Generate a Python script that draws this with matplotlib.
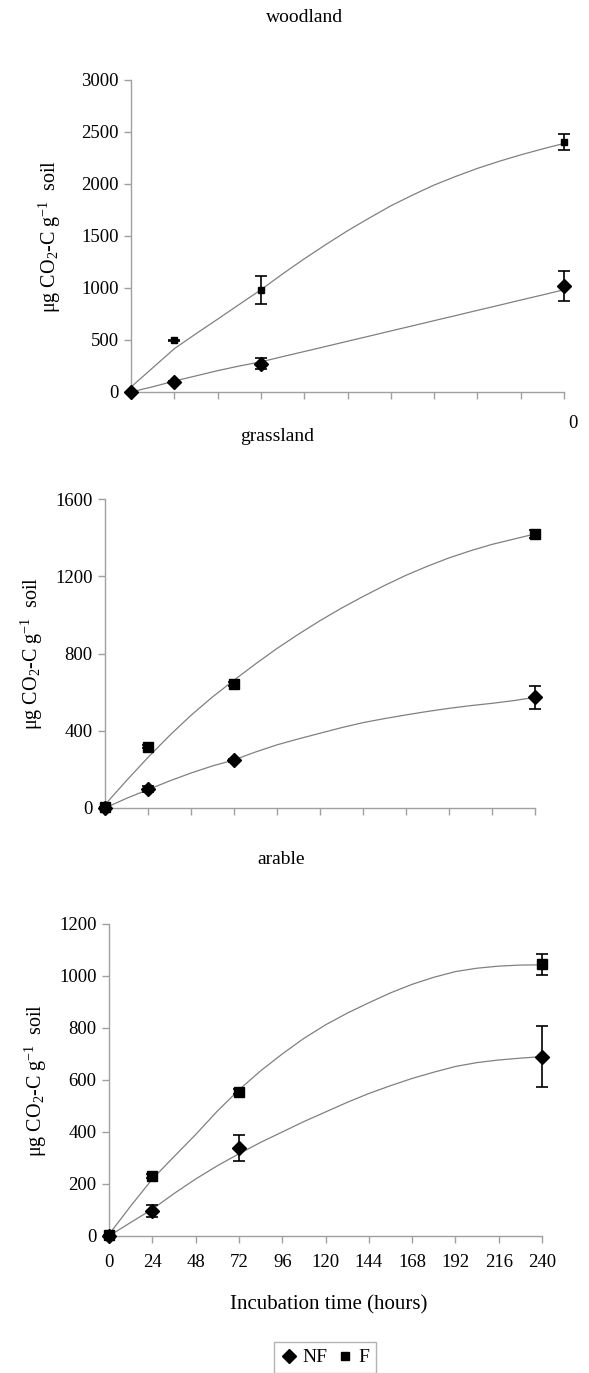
import matplotlib
matplotlib.use("Agg")
import matplotlib.pyplot as plt
from matplotlib.lines import Line2D

plt.rcParams['font.family'] = ['Liberation Serif', 'DejaVu Serif']
plt.rcParams['mathtext.fontset'] = 'custom'
plt.rcParams['mathtext.rm'] = 'Liberation Serif'
plt.rcParams['mathtext.it'] = 'Liberation Serif:italic'

# ---- data ----
t_obs = [0, 24, 72, 240]
t_curve = [0, 12, 24, 36, 48, 60, 72, 84, 96, 108, 120, 132, 144, 156, 168,
           180, 192, 204, 216, 228, 240]
x_ticks = [0, 24, 48, 72, 96, 120, 144, 168, 192, 216, 240]

panels = ["woodland", "grassland", "arable"]

# woodland
wood_nf = [0, 92, 272, 1018]
wood_nf_err = [0, 10, 55, 145]
wood_f = [0, 496, 983, 2401]
wood_f_err = [0, 8, 133, 75]
wood_nf_curve = [0, 50, 105, 155, 205, 250, 290, 340, 389, 438, 488, 537,
                 587, 636, 686, 735, 785, 834, 884, 933, 983]
wood_f_curve = [48, 232, 416, 560, 700, 842, 983, 1135, 1280, 1418, 1550,
                1672, 1790, 1893, 1990, 2073, 2150, 2218, 2280, 2337, 2390]

# grassland
grass_nf = [0, 98, 246, 573]
grass_nf_err = [0, 15, 8, 60]
grass_f = [5, 318, 642, 1419]
grass_f_err = [0, 8, 12, 22]
grass_nf_curve = [0, 50, 95, 140, 181, 218, 249, 290, 327, 358, 387, 416,
                  442, 463, 482, 500, 516, 530, 542, 556, 573]
grass_f_curve = [17, 142, 262, 375, 480, 575, 662, 746, 826, 900, 970, 1035,
                 1095, 1152, 1205, 1252, 1295, 1332, 1365, 1392, 1419]

# arable
ar_nf = [0, 97, 338, 690]
ar_nf_err = [0, 22, 50, 117]
ar_f = [5, 232, 555, 1045]
ar_f_err = [0, 8, 10, 40]
ar_nf_curve = [0, 52, 103, 163, 219, 270, 316, 360, 400, 440, 477, 514,
               548, 578, 606, 630, 652, 667, 677, 684, 690]
ar_f_curve = [6, 115, 219, 305, 390, 480, 562, 635, 700, 760, 812, 857,
              897, 935, 968, 995, 1017, 1030, 1038, 1042, 1043]

ylims = [3000, 1600, 1200]
ysteps = [500, 400, 200]

data = [
    (wood_nf, wood_nf_err, wood_f, wood_f_err, wood_nf_curve, wood_f_curve),
    (grass_nf, grass_nf_err, grass_f, grass_f_err, grass_nf_curve, grass_f_curve),
    (ar_nf, ar_nf_err, ar_f, ar_f_err, ar_nf_curve, ar_f_curve),
]

W, H = 589, 1373
fig = plt.figure(figsize=(W / 100, H / 100), dpi=100)

def fx(px):
    return px / W

def fy(py):
    return 1 - py / H

# axes boxes in pixels: left, right, top, bottom
boxes = [(131, 564, 80, 392), (105, 535, 499, 808), (109, 542, 924, 1236)]
title_pos = [(305, 17), (277, 436), (281, 860)]
ylabel_pos = [(50, 236), (32, 653), (36, 1080)]

spine_col = '#a0a0a0'
curve_col = '#808080'
tick_fs = 13.5

for i, (name, box) in enumerate(zip(panels, boxes)):
    l, r, t, b = box
    ax = fig.add_axes([fx(l), fy(b), fx(r) - fx(l), fy(t) - fy(b)])
    nf, nf_err, f, f_err, nf_c, f_c = data[i]
    ax.plot(t_curve, f_c, color=curve_col, lw=0.9, zorder=2)
    ax.plot(t_curve, nf_c, color=curve_col, lw=0.9, zorder=2)
    sq_ms = 5 if i == 0 else 7
    ax.errorbar(t_obs, f, yerr=f_err, fmt='s', color='black', ms=sq_ms,
                ecolor='black', elinewidth=1.2, capsize=4.5, capthick=1.2,
                clip_on=False, zorder=4)
    ax.errorbar(t_obs, nf, yerr=nf_err, fmt='D', color='black', ms=7,
                ecolor='black', elinewidth=1.2, capsize=4.5, capthick=1.2,
                clip_on=False, zorder=5)
    ax.set_xlim(0, 240)
    ax.set_ylim(0, ylims[i])
    ax.set_yticks(list(range(0, ylims[i] + 1, ysteps[i])))
    ax.set_xticks(x_ticks)
    if i < 2:
        ax.set_xticklabels([])
    for s in ['top', 'right']:
        ax.spines[s].set_visible(False)
    for s in ['left', 'bottom']:
        ax.spines[s].set_color(spine_col)
        ax.spines[s].set_linewidth(1.0)
    ax.tick_params(axis='both', direction='out', length=5, width=1.0,
                   color=spine_col, labelsize=tick_fs, pad=4)
    ax.tick_params(axis='x', pad=8)
    fig.text(fx(title_pos[i][0]), fy(title_pos[i][1]), name, ha='center',
             va='center', fontsize=14)
    fig.text(fx(ylabel_pos[i][0]), fy(ylabel_pos[i][1]),
             r"μg CO$_2$-C g$^{-1}$  soil", rotation=90, ha='center',
             va='center', fontsize=14.5)

# stray "0" label at right of woodland panel
fig.text(fx(573), fy(423), "0", ha='center', va='center', fontsize=tick_fs)

fig.text(fx(329), fy(1305), "Incubation time (hours)", ha='center',
         va='center', fontsize=15)

handles = [Line2D([], [], marker='D', color='black', ls='none', ms=7),
           Line2D([], [], marker='s', color='black', ls='none', ms=5.5)]
leg = fig.legend(handles, ["NF", "F"], loc='upper left',
                 bbox_to_anchor=(fx(274), fy(1342)), ncol=2, frameon=True,
                 fancybox=False, fontsize=14, handlelength=0.8,
                 handletextpad=0.3, columnspacing=0.5, borderpad=0.35,
                 borderaxespad=0)
leg.get_frame().set_edgecolor(spine_col)
leg.get_frame().set_linewidth(1.0)

fig.savefig("out.png", dpi=100)
